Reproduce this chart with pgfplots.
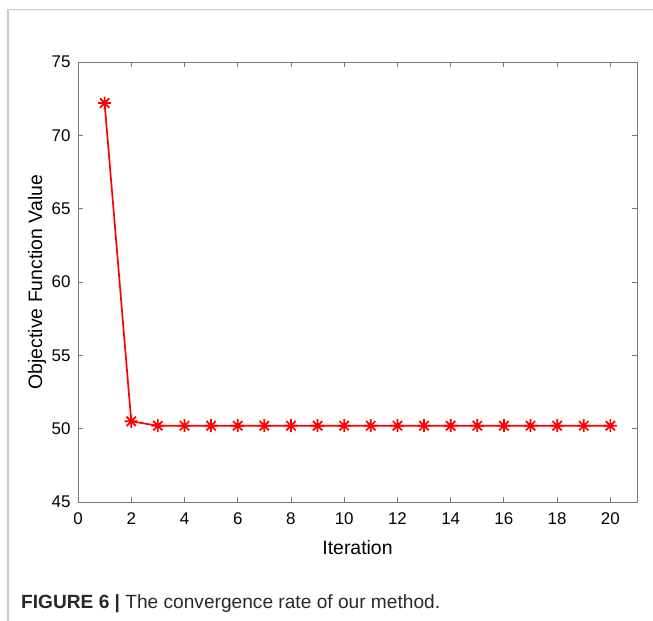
\documentclass[border=0pt]{standalone}
\usepackage{fontspec}
\setmainfont{Liberation Sans}
\usepackage{pgfplots}
\pgfplotsset{compat=1.18}
\definecolor{axgray}{RGB}{120,120,120}
\definecolor{framegray}{RGB}{200,200,200}
\definecolor{captext}{RGB}{40,40,40}
\pgfdeclareplotmark{mstar}{%
  \pgfpathmoveto{\pgfqpoint{-\pgfplotmarksize}{0pt}}%
  \pgfpathlineto{\pgfqpoint{\pgfplotmarksize}{0pt}}%
  \pgfpathmoveto{\pgfqpoint{0pt}{-\pgfplotmarksize}}%
  \pgfpathlineto{\pgfqpoint{0pt}{\pgfplotmarksize}}%
  \pgfpathmoveto{\pgfqpoint{-0.72\pgfplotmarksize}{-0.72\pgfplotmarksize}}%
  \pgfpathlineto{\pgfqpoint{0.72\pgfplotmarksize}{0.72\pgfplotmarksize}}%
  \pgfpathmoveto{\pgfqpoint{-0.72\pgfplotmarksize}{0.72\pgfplotmarksize}}%
  \pgfpathlineto{\pgfqpoint{0.72\pgfplotmarksize}{-0.72\pgfplotmarksize}}%
  \pgfusepathqstroke}
\begin{document}
\begin{tikzpicture}[x=1bp,y=1bp]
\path[use as bounding box] (0,0) rectangle (653,621);
\draw[framegray, line width=1.3bp] (8,0) -- (8,611.5) -- (653,611.5);
\begin{axis}[
  at={(78bp,119bp)}, anchor=south west,
  scale only axis, width=559bp, height=440bp,
  xmin=0, xmax=21, ymin=45, ymax=75,
  xtick={0,2,...,20}, ytick={45,50,...,75},
  tick align=inside,
  major tick length=5bp,
  axis line style={axgray, line width=0.9bp},
  every tick/.style={axgray, line width=0.9bp},
  /pgf/number format/assume math mode=true,
  ticklabel style={font=\fontsize{17}{20}\selectfont, text=black},
  xticklabel style={yshift=-7bp},
  yticklabel style={xshift=-4bp},
  label style={font=\fontsize{19.5}{22}\selectfont},
  xlabel={Iteration},
  ylabel={Objective Function Value},
  xlabel style={at={(axis description cs:0.5,-0.1045)}, anchor=center},
  ylabel style={at={(axis description cs:-0.0733,0.5)}, anchor=center},
]
\addplot[color=red, line width=1.7bp, mark=mstar, mark size=6.5bp, mark options={line width=1.7bp}] coordinates {
(1,72.2) (2,50.5) (3,50.2) (4,50.2) (5,50.2) (6,50.2) (7,50.2) (8,50.2) (9,50.2) (10,50.2)
(11,50.2) (12,50.2) (13,50.2) (14,50.2) (15,50.2) (16,50.2) (17,50.2) (18,50.2) (19,50.2) (20,50.2)
};
\end{axis}
\node[anchor=base west, inner sep=0, text=captext] at (21,12) {\fontsize{19.2}{22}\selectfont\textbf{FIGURE 6 |} The convergence rate of our method.};
\end{tikzpicture}
\end{document}
